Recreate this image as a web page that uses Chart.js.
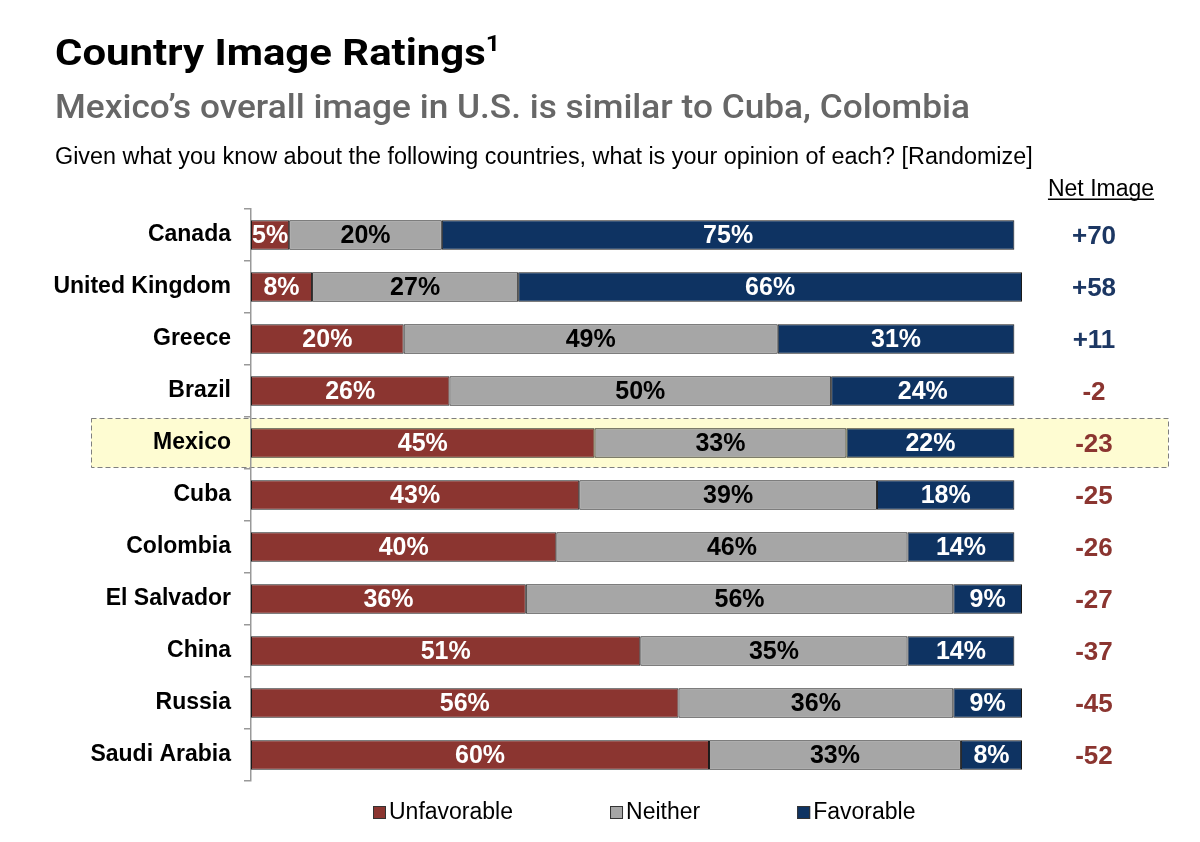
<!DOCTYPE html>
<html>
<head>
<meta charset="utf-8">
<script src="https://cdn.jsdelivr.net/npm/chart.js@4.4.1/dist/chart.umd.min.js"></script>
<style>
  html, body { margin: 0; padding: 0; background: #fff; }
  #wrap { position: relative; width: 1200px; height: 842px; overflow: hidden; }
  #chart { position: absolute; left: 0; top: 0; }
  .txt { position: absolute; white-space: nowrap; line-height: 1; transform-origin: left top; }
  #title { left: 55px; top: 31px; font: 700 37px Roboto, sans-serif; color: #000; }
  #title sup { font-size: 22px; vertical-align: 14px; line-height: 0; }
  #subtitle { left: 55px; top: 86px; font: 500 34px Roboto, sans-serif; color: #676767; }
  #question { left: 55px; top: 143px; font: 400 23px "Liberation Sans", Arial, sans-serif; color: #000; }
</style>
</head>
<body>
<div id="wrap">
  <canvas id="chart" width="1200" height="842"></canvas>
  <div class="txt" id="title" data-w="445">Country Image Ratings<sup>1</sup></div>
  <div class="txt" id="subtitle" data-w="915">Mexico’s overall image in U.S. is similar to Cuba, Colombia</div>
  <div class="txt" id="question" data-w="978">Given what you know about the following countries, what is your opinion of each? [Randomize]</div>
</div>
<script>
const countries = ['Canada', 'United Kingdom', 'Greece', 'Brazil', 'Mexico', 'Cuba', 'Colombia', 'El Salvador', 'China', 'Russia', 'Saudi Arabia'];
const unfavorable = [5, 8, 20, 26, 45, 43, 40, 36, 51, 56, 60];
const neither = [20, 27, 49, 50, 33, 39, 46, 56, 35, 36, 33];
const favorable = [75, 66, 31, 24, 22, 18, 14, 9, 14, 9, 8];
const netImage = [70, 58, 11, -2, -23, -25, -26, -27, -37, -45, -52];
const highlightCountry = 'Mexico';

const RED = '#8b3530';
const GRAY = '#a6a6a6';
const NAVY = '#0e3362';
const LABEL_FONT = '"Liberation Sans", Arial, sans-serif';

// stretch header lines to the widths seen in the reference
function fitText() {
    document.querySelectorAll('.txt').forEach(el => {
        const target = +el.dataset.w;
        el.style.transform = `scaleX(${target / el.offsetWidth})`;
    });
}
document.fonts.ready.then(fitText);

const highlightPlugin = {
    id: 'highlight',
    beforeDraw(chart) {
        const ctx = chart.ctx;
        const yScale = chart.scales.y;
        const idx = countries.indexOf(highlightCountry);
        if (idx < 0) return;
        const cy = yScale.getPixelForValue(idx);
        const x0 = 91, x1 = 1168;
        ctx.save();
        ctx.fillStyle = '#fefcd2';
        ctx.fillRect(x0, cy - 24.5, x1 - x0, 49);
        ctx.setLineDash([5, 3]);
        ctx.strokeStyle = '#7f7f7f';
        ctx.lineWidth = 1;
        ctx.strokeRect(x0 + 0.5, cy - 24.5, x1 - x0, 49);
        ctx.restore();
    }
};

const barLabelPlugin = {
    id: 'barLabels',
    afterDatasetsDraw(chart) {
        const ctx = chart.ctx;
        ctx.save();
        ctx.font = `bold 25px ${LABEL_FONT}`;
        ctx.textAlign = 'center';
        ctx.textBaseline = 'middle';
        chart.data.datasets.forEach((ds, di) => {
            const meta = chart.getDatasetMeta(di);
            meta.data.forEach((bar, i) => {
                const { x, base, y } = bar.getProps(['x', 'base', 'y'], true);
                ctx.fillStyle = di === 1 ? '#000' : '#fff';
                ctx.fillText(ds.data[i] + '%', (x + base) / 2, y + 1);
            });
        });
        ctx.restore();
    }
};

const netImagePlugin = {
    id: 'netImage',
    afterDraw(chart) {
        const ctx = chart.ctx;
        const yScale = chart.scales.y;
        const cx = 1094;
        ctx.save();
        ctx.font = `23px ${LABEL_FONT}`;
        ctx.fillStyle = '#000';
        ctx.textAlign = 'center';
        ctx.textBaseline = 'alphabetic';
        const head = 'Net Image';
        const hw = ctx.measureText(head).width;
        ctx.fillText(head, 1101, 196);
        ctx.fillRect(1101 - hw / 2, 198.5, hw, 1.5);

        ctx.font = `bold 26px ${LABEL_FONT}`;
        ctx.textBaseline = 'middle';
        netImage.forEach((v, i) => {
            ctx.fillStyle = v > 0 ? '#1c3763' : RED;
            ctx.fillText((v > 0 ? '+' : '') + v, cx, yScale.getPixelForValue(i) + 2);
        });
        ctx.restore();
    }
};

const legendPlugin = {
    id: 'bottomLegend',
    afterDraw(chart) {
        const ctx = chart.ctx;
        const y = 812;
        let x = 373;
        ctx.save();
        ctx.font = `23px ${LABEL_FONT}`;
        ctx.textBaseline = 'middle';
        ctx.textAlign = 'left';
        chart.data.datasets.forEach(ds => {
            ctx.fillStyle = ds.backgroundColor;
            ctx.fillRect(x, y - 6, 13, 13);
            ctx.strokeStyle = '#333';
            ctx.lineWidth = 1;
            ctx.strokeRect(x + 0.5, y - 5.5, 12, 12);
            ctx.fillStyle = '#000';
            ctx.fillText(ds.label, x + 16, y + 1);
            x += 16 + ctx.measureText(ds.label).width + 97;
        });
        ctx.restore();
    }
};

const ctx = document.getElementById('chart').getContext('2d');
const ratingChart = new Chart(ctx, {
    type: 'bar',
    data: {
        labels: countries,
        datasets: [
            { label: 'Unfavorable', data: unfavorable, backgroundColor: RED },
            { label: 'Neither', data: neither, backgroundColor: GRAY },
            { label: 'Favorable', data: favorable, backgroundColor: NAVY }
        ].map(ds => Object.assign(ds, {
            borderColor: '#1a1a1a',
            borderWidth: 1,
            borderSkipped: false,
            barPercentage: 0.57,
            categoryPercentage: 1
        }))
    },
    options: {
        indexAxis: 'y',
        responsive: false,
        animation: false,
        devicePixelRatio: 1,
        layout: {
            padding: { top: 209, bottom: 61, left: 0, right: 178 }
        },
        plugins: {
            legend: { display: false },
            tooltip: { enabled: false },
            title: { display: false }
        },
        scales: {
            x: {
                stacked: true,
                display: false,
                min: 0,
                max: 101
            },
            y: {
                stacked: true,
                afterFit: scale => { scale.width = 251; },
                border: { color: '#999', width: 1.5 },
                grid: {
                    offset: true,
                    drawOnChartArea: false,
                    tickLength: 7,
                    color: '#999',
                    lineWidth: 1.5
                },
                ticks: {
                    padding: 13,
                    color: '#000',
                    font: { family: LABEL_FONT, size: 23, weight: 'bold' }
                }
            }
        }
    },
    plugins: [highlightPlugin, barLabelPlugin, netImagePlugin, legendPlugin]
});
</script>
</body>
</html>
